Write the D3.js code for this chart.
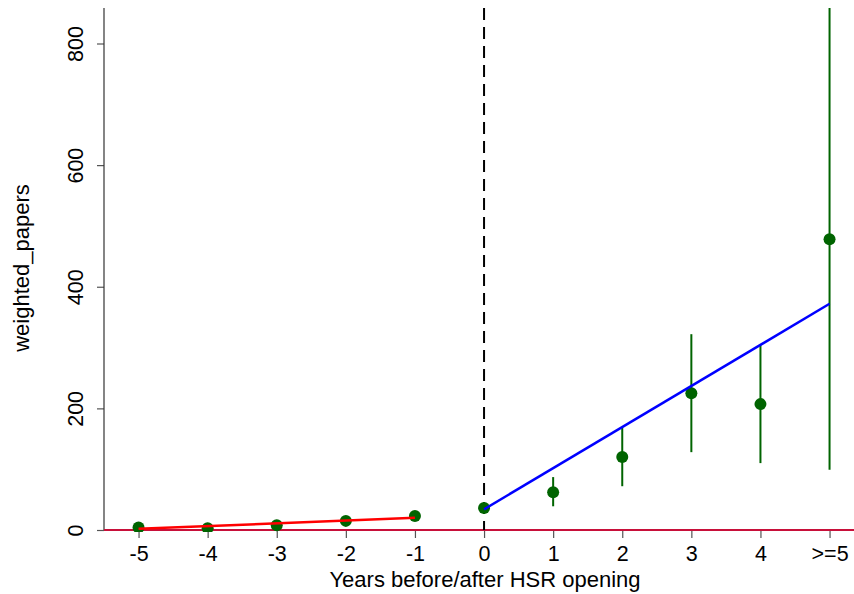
<!DOCTYPE html>
<html>
<head>
<meta charset="utf-8">
<script src="https://cdn.jsdelivr.net/npm/d3@7"></script>
<style>
  body { margin: 0; background: #fff; }
  text { font-family: "Liberation Sans", Arial, sans-serif; fill: #000; }
</style>
</head>
<body>
<div id="chart"></div>
<script>
// event-time categories and estimates
var years = [-5, -4, -3, -2, -1, 0, 1, 2, 3, 4, 5];
var tickLabels = ["-5", "-4", "-3", "-2", "-1", "0", "1", "2", "3", "4", ">=5"];
var estimates = [4, 3, 8, 15, 23, 36, 62, 120, 225, 207, 478];
var ciLow = [1, 0, 4, 10, 18, 28, 39, 72, 128, 110, 99];
var ciHigh = [7, 6, 12, 20, 28, 44, 87, 168, 322, 304, 900];
var yTicks = [0, 200, 400, 600, 800];

// fitted lines before / after opening
var preFit = [[-5, 2], [-1, 20]];
var postFit = [[0, 34], [5, 372]];

var W = 854, H = 594;
var plotLeft = 104, plotTop = 8, plotBottom = 530;

var svg = d3.select("#chart").append("svg")
      .attr("width", W)
      .attr("height", H);

var x = d3.scaleLinear()
      .domain([-5.5, 5.5])
      .range([plotLeft, plotLeft + 11 * 69.1]);

var y = d3.scaleLinear()
      .domain([0, 800])
      .range([plotBottom, 43.5]);

svg.append("clipPath").attr("id", "plotclip")
      .append("rect")
      .attr("x", plotLeft).attr("y", plotTop)
      .attr("width", W - plotLeft).attr("height", plotBottom - plotTop + 2);

// Y axis
var yAxis = svg.append("g")
      .attr("transform", "translate(" + plotLeft + ",0)")
      .call(d3.axisLeft(y).tickValues(yTicks).tickSize(7).tickFormat(d3.format("d")));
yAxis.select(".domain").remove();
yAxis.append("line")
      .attr("x1", 0).attr("x2", 0)
      .attr("y1", plotTop).attr("y2", plotBottom)
      .attr("stroke", "#333").attr("stroke-width", 1.2);
yAxis.selectAll(".tick line").attr("stroke", "#555").attr("stroke-width", 1.2);
yAxis.selectAll(".tick text")
      .style("font-size", "21.5px")
      .attr("text-anchor", "middle")
      .attr("x", 0).attr("dy", 0)
      .attr("transform", "translate(-28,0) rotate(-90)")
      .attr("dominant-baseline", "central");

// X axis
var xAxis = svg.append("g")
      .attr("transform", "translate(0," + plotBottom + ")")
      .call(d3.axisBottom(x).tickValues(years).tickSize(8).tickPadding(8)
            .tickFormat(function(d, i) { return tickLabels[i]; }));
xAxis.select(".domain").remove();
xAxis.append("line")
      .attr("x1", plotLeft).attr("x2", W)
      .attr("stroke", "#333").attr("stroke-width", 1.2);
xAxis.selectAll(".tick line").attr("stroke", "#555").attr("stroke-width", 1.2);
xAxis.selectAll(".tick text").style("font-size", "21.5px");

// titles
svg.append("text")
      .attr("transform", "translate(28.5,268) rotate(-90)")
      .attr("text-anchor", "middle")
      .style("font-size", "22px")
      .text("weighted_papers");

svg.append("text")
      .attr("x", 485).attr("y", 587)
      .attr("text-anchor", "middle")
      .style("font-size", "22px")
      .text("Years before/after HSR opening");

var plot = svg.append("g").attr("clip-path", "url(#plotclip)");

// zero reference line
plot.append("line")
      .attr("x1", plotLeft).attr("x2", W)
      .attr("y1", y(0)).attr("y2", y(0))
      .attr("stroke", "#c8103a").attr("stroke-width", 2);

// opening year
plot.append("line")
      .attr("x1", x(0)).attr("x2", x(0))
      .attr("y1", plotTop).attr("y2", plotBottom)
      .attr("stroke", "#000").attr("stroke-width", 2)
      .attr("stroke-dasharray", "12,7");

// error bars
plot.append("g").selectAll("line")
      .data(years)
      .enter()
      .append("line")
      .attr("x1", d => x(d)).attr("x2", d => x(d))
      .attr("y1", (d, i) => y(ciLow[i]))
      .attr("y2", (d, i) => y(ciHigh[i]))
      .attr("stroke", "#006400").attr("stroke-width", 2);

// points
plot.append("g").selectAll("circle")
      .data(years)
      .enter()
      .append("circle")
      .attr("cx", d => x(d))
      .attr("cy", (d, i) => y(estimates[i]))
      .attr("r", 6)
      .attr("fill", "#006400");

// fitted lines
var line = d3.line().x(d => x(d[0])).y(d => y(d[1]));
plot.append("path").datum(preFit)
      .attr("d", line).attr("fill", "none")
      .attr("stroke", "#ff0000").attr("stroke-width", 2.5);
plot.append("path").datum(postFit)
      .attr("d", line).attr("fill", "none")
      .attr("stroke", "#0000ff").attr("stroke-width", 2.5);
</script>
</body>
</html>
